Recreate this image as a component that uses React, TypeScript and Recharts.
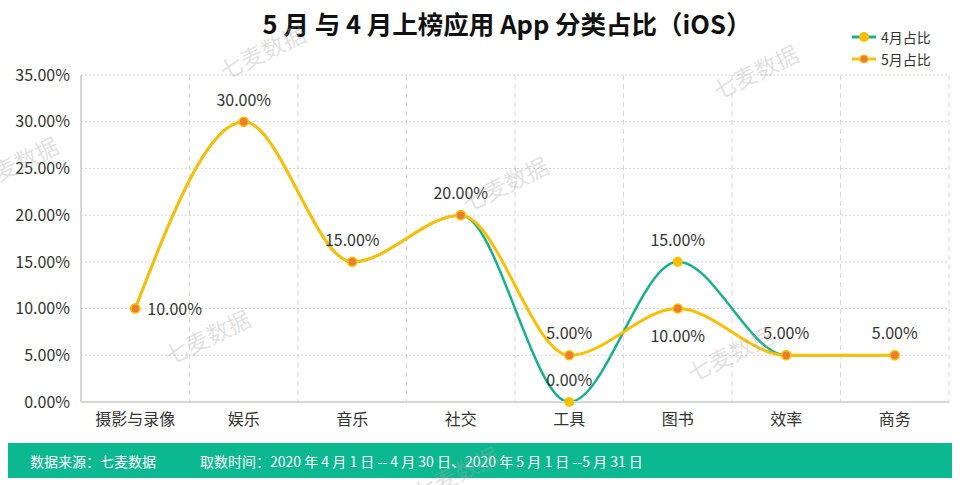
import { CartesianGrid, LabelList, Line, LineChart, XAxis, YAxis } from "recharts";

const categories = ["摄影与录像", "娱乐", "音乐", "社交", "工具", "图书", "效率", "商务"];
const april = [10, 30, 15, 20, 0, 15, 5, 5];
const may = [10, 30, 15, 20, 5, 10, 5, 5];
const yTicks = [0, 5, 10, 15, 20, 25, 30, 35];

// which points carry a value label, and where
const aprilLabels = ["", "", "", "", "top", "top", "", ""];
const mayLabels = ["right", "top", "top", "top", "top", "bottom", "top", "top"];

const watermarks = [
  [262, 48],
  [755, 68],
  [505, 180],
  [207, 333],
  [730, 350],
  [15, 160],
  [455, 470],
];

const GREEN = "#19b08e";
const YELLOW = "#fbbf05";
const ORANGE = "#ec7c30";
const FONT = '"Noto Sans CJK SC", "Noto Sans", sans-serif';

const data = categories.map((name, i) => ({ name, april: april[i], may: may[i] }));

const pct = (v: number) => `${v.toFixed(2)}%`;

function makeLabel(positions: string[]) {
  return (props: any) => {
    const { x, y, value, index } = props;
    const pos = positions[index];
    if (!pos) return null;
    let tx = x;
    let ty = y - 16;
    let anchor: "middle" | "start" = "middle";
    if (pos === "right") {
      tx = x + 12;
      ty = y + 6;
      anchor = "start";
    } else if (pos === "bottom") {
      ty = y + 33;
    }
    return (
      <text x={tx} y={ty} textAnchor={anchor} fill="#333" fontSize={16} fontFamily={FONT}>
        {pct(Number(value))}
      </text>
    );
  };
}

function AprilDot(props: any) {
  const { cx, cy } = props;
  return <circle cx={cx} cy={cy} r={5} fill="#fac000" />;
}

function MayDot(props: any) {
  const { cx, cy } = props;
  return <circle cx={cx} cy={cy} r={4.5} fill={ORANGE} stroke="#fac000" strokeWidth={1.5} />;
}

function LegendBox() {
  const items = [
    { label: "4月占比", line: GREEN, dot: "#fac000", r: 5, stroke: "none" },
    { label: "5月占比", line: YELLOW, dot: ORANGE, r: 4, stroke: "#fac000" },
  ];
  return (
    <div style={{ position: "absolute", left: 852, top: 26, fontFamily: FONT, fontSize: 14, color: "#333" }}>
      {items.map((it) => (
        <div key={it.label} style={{ display: "flex", alignItems: "center", height: 22 }}>
          <svg width={24} height={12} style={{ marginRight: 5 }}>
            <line x1={0} y1={6} x2={24} y2={6} stroke={it.line} strokeWidth={3} />
            <circle cx={12} cy={6} r={it.r} fill={it.dot} stroke={it.stroke} strokeWidth={1} />
          </svg>
          <span>{it.label}</span>
        </div>
      ))}
    </div>
  );
}

export default function App() {
  return (
    <div style={{ position: "absolute", left: 0, top: 0, width: 960, height: 485, background: "#fff", overflow: "hidden" }}>
      <div
        style={{
          position: "absolute",
          top: 4,
          left: 0,
          width: 1014,
          textAlign: "center",
          fontFamily: FONT,
          fontWeight: "bold",
          fontSize: 25.5,
          color: "#111",
        }}
      >
        5 月 与 4 月上榜应用 App 分类占比（iOS）
      </div>
      <LineChart width={960} height={485} data={data} margin={{ top: 75, right: 11, bottom: 43, left: 11 }}>
        <CartesianGrid horizontal vertical={false} stroke="#d4d4d4" strokeDasharray="2 2" />
        <CartesianGrid
          horizontal={false}
          vertical
          stroke="#d8d8d8"
          strokeDasharray="5 4"
          verticalCoordinatesGenerator={({ offset }: any) =>
            categories.map((_, i) => offset.left + ((i + 1) * offset.width) / categories.length)
          }
        />
        <XAxis
          dataKey="name"
          tickLine={false}
          axisLine={{ stroke: "#d6d6d6", strokeWidth: 2 }}
          tick={{ fill: "#333", fontSize: 16, fontFamily: FONT }}
          tickMargin={6}
          height={40}
          interval={0}
          padding={{ left: 54.25, right: 54.25 }}
        />
        <YAxis
          domain={[0, 35]}
          ticks={yTicks}
          tickFormatter={pct}
          tickLine={false}
          axisLine={{ stroke: "#d6d6d6", strokeWidth: 2 }}
          tick={{ fill: "#333", fontSize: 16, fontFamily: FONT }}
          tickMargin={5}
          width={70}
        />
        <Line
          type="monotone"
          dataKey="april"
          name="4月占比"
          stroke={GREEN}
          strokeWidth={2.5}
          dot={<AprilDot />}
          activeDot={false}
          isAnimationActive={false}
        >
          <LabelList dataKey="april" content={makeLabel(aprilLabels)} />
        </Line>
        <Line
          type="monotone"
          dataKey="may"
          name="5月占比"
          stroke={YELLOW}
          strokeWidth={3}
          dot={<MayDot />}
          activeDot={false}
          isAnimationActive={false}
        >
          <LabelList dataKey="may" content={makeLabel(mayLabels)} />
        </Line>
      </LineChart>
      <LegendBox />
      <div
        style={{
          position: "absolute",
          left: 8,
          top: 443,
          width: 944,
          height: 35,
          background: "#0cb890",
          color: "#fff",
          fontFamily: FONT,
          fontSize: 14,
          display: "flex",
          alignItems: "center",
        }}
      >
        <span style={{ marginLeft: 22, width: 170 }}>数据来源：七麦数据</span>
        <span>取数时间：2020 年 4 月 1 日 -- 4 月 30 日、2020 年 5 月 1 日 --5 月 31 日</span>
      </div>
      {watermarks.map(([x, y], i) => (
        <div
          key={i}
          style={{
            position: "absolute",
            left: x - 50,
            top: y - 14,
            width: 100,
            textAlign: "center",
            fontFamily: FONT,
            fontSize: 23,
            color: "rgba(170,170,170,0.35)",
            transform: "rotate(-26deg)",
            pointerEvents: "none",
            whiteSpace: "nowrap",
          }}
        >
          七麦数据
        </div>
      ))}
    </div>
  );
}
